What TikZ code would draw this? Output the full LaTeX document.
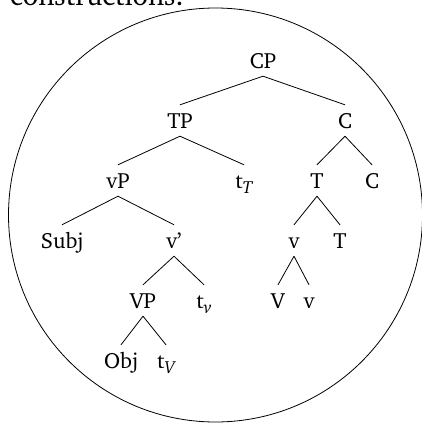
\documentclass[tikz,border=0pt]{standalone}
\usepackage[T1]{fontenc}
\usepackage{charter}
\usetikzlibrary{calc}
\newcommand{\tsub}[1]{\raisebox{-5pt}{\fontsize{17.5}{17.5}\selectfont\itshape #1}}
\tikzset{
  lab/.style={anchor=base, inner xsep=0pt, inner ysep=8pt, text height=15pt, text depth=0pt, font=\fontsize{22}{26}\selectfont},
  br/.style={line width=0.8pt},
}
\begin{document}
\begin{tikzpicture}[x=1pt,y=-1pt]
\useasboundingbox (0,0) rectangle (422,423);
\node[anchor=base west, inner sep=0pt, font=\fontsize{28.5}{30}\selectfont] (head) at (10,5.5) {constructions.};
\draw[br] (215.5,215) circle[radius=207];
\node[lab] (CP) at (263,68) {CP};
\node[lab] (TP) at (180,128) {TP};
\node[lab] (C1) at (345,128) {C};
\node[lab] (vP) at (118,188) {vP};
\node[lab] (tT) at (244,188) {t\tsub{T}};
\node[lab] (T1) at (317,188) {T};
\node[lab] (C2) at (372,188) {C};
\node[lab] (Subj) at (62,248) {Subj};
\node[lab] (vbar) at (174,248) {v'};
\node[lab] (v1) at (294,248) {v};
\node[lab] (T2) at (340,248) {T};
\node[lab] (VP) at (143,308) {VP};
\node[lab] (tv) at (204,308) {t\tsub{v}};
\node[lab] (V) at (278,308) {V};
\node[lab] (v2) at (309,308) {v};
\node[lab] (Obj) at (121,368) {Obj};
\node[lab] (tV) at (166,368) {t\tsub{V}};
\foreach \p/\c in {CP/TP,CP/C1,TP/vP,TP/tT,C1/T1,C1/C2,vP/Subj,vP/vbar,T1/v1,T1/T2,vbar/VP,vbar/tv,v1/V,v1/v2,VP/Obj,VP/tV}
  \draw[br] (\p.south) -- (\c.north);
\end{tikzpicture}
\end{document}
